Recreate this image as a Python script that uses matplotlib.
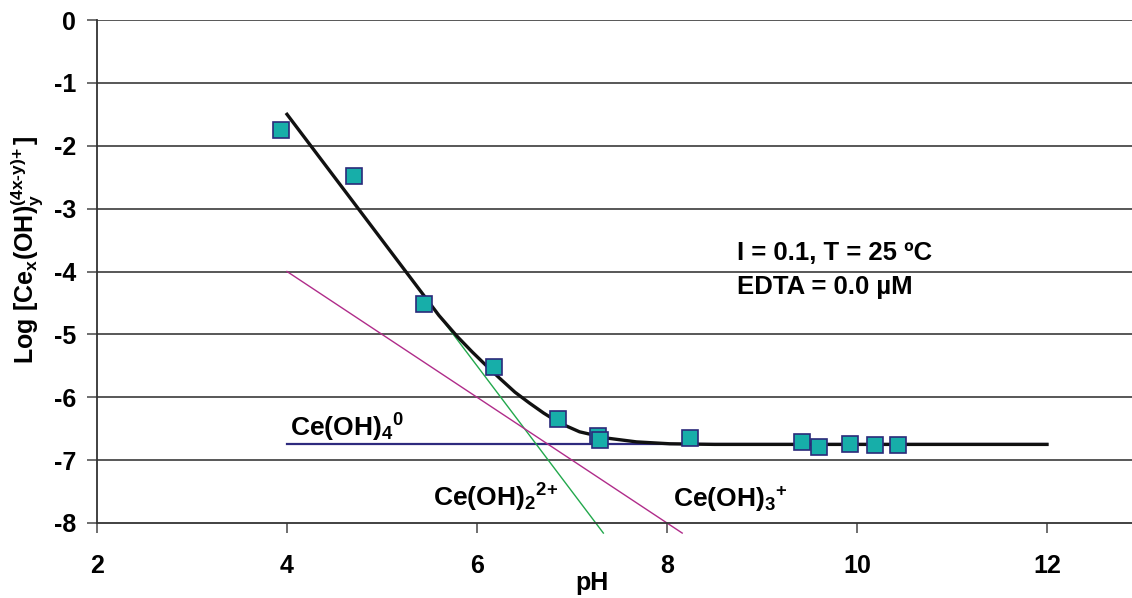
import matplotlib
matplotlib.use("Agg")
import matplotlib.pyplot as plt

plt.rcParams['font.family'] = ['Liberation Sans', 'DejaVu Sans']
plt.rcParams['font.weight'] = 'bold'
plt.rcParams['mathtext.fontset'] = 'custom'
plt.rcParams['mathtext.rm'] = 'Liberation Sans:bold'
plt.rcParams['mathtext.it'] = 'Liberation Sans:bold'
plt.rcParams['mathtext.bf'] = 'Liberation Sans:bold'
plt.rcParams['mathtext.default'] = 'rm'

# measured points
ph_data = [3.94, 4.71, 5.44, 6.18, 6.85, 7.27, 7.29, 8.24, 9.42, 9.60, 9.93, 10.19, 10.43]
log_data = [-1.75, -2.48, -4.52, -5.52, -6.34, -6.61, -6.68, -6.65, -6.71, -6.79, -6.74, -6.76, -6.76]

# total (model) curve
ph_fit = [4.0, 4.5, 5.0, 5.3, 5.45, 5.6, 5.79, 5.95, 6.1, 6.24, 6.4, 6.55, 6.7, 6.87, 7.08,
          7.37, 7.68, 8.03, 8.5, 12.0]
log_fit = [-1.5, -2.5, -3.5, -4.1, -4.4, -4.7, -5.03, -5.28, -5.5, -5.7, -5.92, -6.09, -6.25,
           -6.41, -6.55, -6.65, -6.71, -6.74, -6.75, -6.75]

# species lines
ph_oh2 = [4.0, 7.33]
log_oh2 = [-1.5, -8.16]
ph_oh3 = [4.0, 8.16]
log_oh3 = [-4.0, -8.16]
ph_oh4 = [4.0, 12.0]
log_oh4 = [-6.75, -6.75]

fig = plt.figure(figsize=(11.32, 5.98), dpi=100)
ax = fig.add_axes([97/1132, 75/598, 1 - 97/1132, 503/598])

for yv in range(-7, 1):
    ax.axhline(yv, color='#4a4a4a', lw=1.3, zorder=0)

ax.plot(ph_oh4, log_oh4, color='#2e2a7e', lw=1.6, zorder=2)
ax.plot(ph_oh2, log_oh2, color='#22a84c', lw=1.0, zorder=2, clip_on=False)
ax.plot(ph_oh3, log_oh3, color='#b02c8a', lw=1.0, zorder=2, clip_on=False)
ax.plot(ph_fit, log_fit, color='#111111', lw=2.4, zorder=3)
ax.plot(ph_data, log_data, 's', ms=11.5, mfc='#17aea9', mec='#2b2a7a', mew=1.2, zorder=4)

ax.set_xlim(2, 2 + (1132 - 97) / 95)
ax.set_ylim(-8, 0)
ax.set_xticks([2, 4, 6, 8, 10, 12])
ax.set_yticks(range(-8, 1))
ax.set_yticklabels([str(v) if v == 0 else '-%d' % -v for v in range(-8, 1)])

for s in ['top', 'right']:
    ax.spines[s].set_visible(False)
for s in ['left', 'bottom']:
    ax.spines[s].set_color('#333333')
    ax.spines[s].set_linewidth(1.3)
ax.tick_params(axis='both', direction='out', length=7, width=1.2, color='#555555',
               labelsize=18)
ax.tick_params(axis='x', pad=15)
ax.tick_params(axis='y', pad=8)
for lab in ax.get_xticklabels() + ax.get_yticklabels():
    lab.set_fontweight('bold')

ax.set_xlabel('pH', fontsize=18, fontweight='bold', va='center')
ax.xaxis.set_label_coords(0.478, -0.119)
ax.set_ylabel('$Log\\ [Ce_x(OH)_y^{(4x\u2010y)\\!+}]$', fontsize=18, va='center')
ax.yaxis.set_label_coords(-0.0676, 0.543)

ax.text(8.74, -3.70, 'I = 0.1, T = 25 ºC', fontsize=18.5, fontweight='bold', va='center')
ax.text(8.74, -4.24, 'EDTA = 0.0 µM', fontsize=18.5, fontweight='bold', va='center')

ax.text(4.03, -6.63, r'$Ce(OH)_4{}^0$', fontsize=19)
ax.text(5.54, -7.74, r'$Ce(OH)_2{}^{2\!+}$', fontsize=19)
ax.text(8.06, -7.74, r'$Ce(OH)_3{}^{\!+}$', fontsize=19)

fig.savefig('out.png', dpi=100)
